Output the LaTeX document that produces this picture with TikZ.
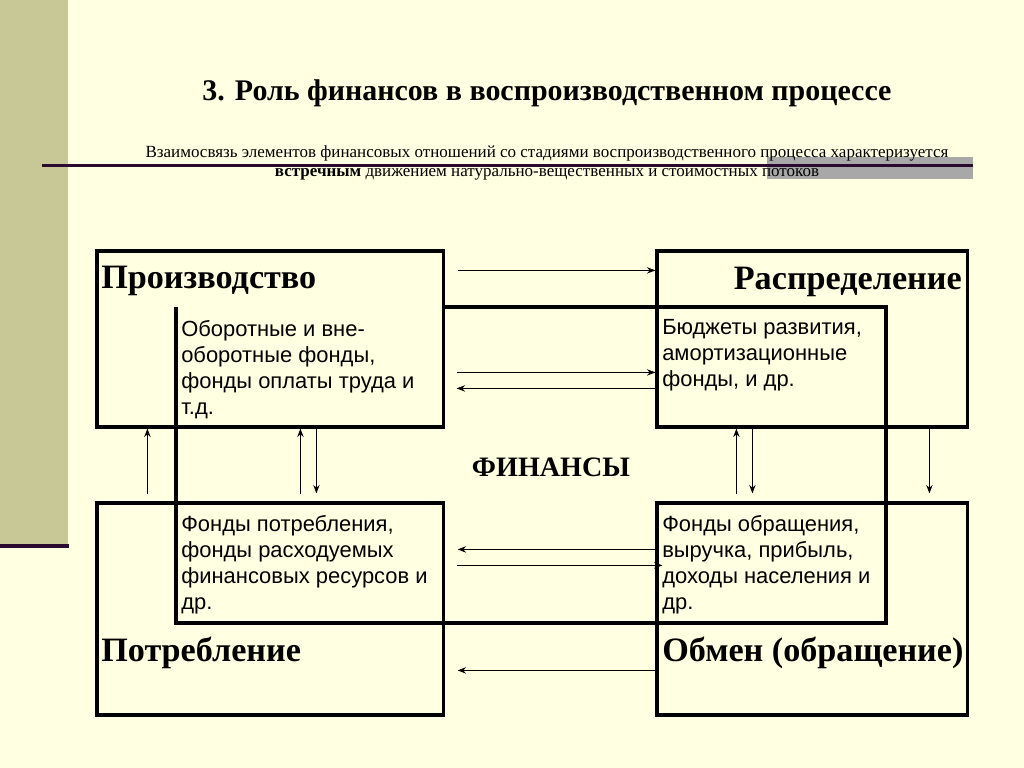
\documentclass[tikz,border=0pt]{standalone}
\usepackage{fontspec}
\setmainfont{Liberation Serif}
\setsansfont{Liberation Sans}
\usetikzlibrary{calc,arrows.meta}
\definecolor{slidebg}{HTML}{FFFFE1}
\definecolor{slideolive}{HTML}{C8C896}
\definecolor{slidepurple}{HTML}{2A0A2E}
\definecolor{slidegrey}{HTML}{A8A8A8}
\begin{document}
\begin{tikzpicture}[x=0.025cm, y=-0.025cm,
    stagebox/.style={draw, line width=2.2pt, inner sep=0pt},
    stagename/.style={font=\fontsize{24.3}{27}\selectfont\bfseries, inner sep=0pt},
    fundtext/.style={font=\sffamily\fontsize{15.6}{18.6}\selectfont, align=left, anchor=north west, inner sep=0pt},
    frameline/.style={line width=2.2pt},
    flow/.style={-{Stealth[length=6pt,width=4.5pt]}, line width=1.1pt}]
  \useasboundingbox (0,0) rectangle (1024,768);
  \fill[slidebg] (0,0) rectangle (1024,768);

  % slide decoration
  \fill[slideolive] (0,0) rectangle (68,545);
  \fill[slidepurple] (0,544) rectangle (69,548);
  \fill[slidegrey] (767,157) rectangle (973,179);
  \fill[slidepurple] (42,164.5) rectangle (973,167.5);

  % title and subtitle
  \node[font=\fontsize{21.3}{25}\selectfont\bfseries, anchor=base] (title) at (547,101)
    {3. Роль финансов в воспроизводственном процессе};
  \node[font=\fontsize{12.1}{14}\selectfont, anchor=base] (sub1) at (547,158)
    {Взаимосвязь элементов финансовых отношений со стадиями воспроизводственного процесса характеризуется};
  \node[font=\fontsize{12.1}{14}\selectfont, anchor=base] (sub2) at (547,177)
    {\textbf{встречным} движением натурально-вещественных и стоимостных потоков};

  % stage boxes
  \node[stagebox, minimum width=8.65cm, minimum height=4.4cm] (prod) at (270,339) {};
  \node[stagebox, minimum width=7.75cm, minimum height=4.4cm] (raspr) at (812,339) {};
  \node[stagebox, minimum width=8.65cm, minimum height=5.3cm] (potr) at (270,609) {};
  \node[stagebox, minimum width=7.75cm, minimum height=5.3cm] (obmen) at (812,609) {};

  % inner frame of finances
  \coordinate (finNW) at (176,307);
  \coordinate (finSE) at (886,623);
  \draw[frameline] (prod.east |- finNW) -- (finSE |- finNW) -- (finSE) -- (finNW |- finSE) -- (finNW);

  % stage names
  \node[stagename, anchor=base west] (prodname) at (101,288) {Производство};
  \node[stagename, anchor=base east] (rasprname) at (962,289) {Распределение};
  \node[stagename, anchor=base west] (potrname) at (101,661) {Потребление};
  \node[stagename, anchor=base west] (obmenname) at (662,661) {Обмен (обращение)};

  % funds
  \node[fundtext] (prodfund) at (181,320) {Оборотные и вне-\\оборотные фонды,\\фонды оплаты труда и\\т.д.};
  \node[fundtext] (rasprfund) at (662,319) {Бюджеты развития,\\амортизационные\\фонды, и др.};
  \node[fundtext] (potrfund) at (181,515) {Фонды потребления,\\фонды расходуемых\\финансовых ресурсов и\\др.};
  \node[fundtext] (obmenfund) at (662,515) {Фонды обращения,\\выручка, прибыль,\\доходы населения и\\др.};

  \node[font=\fontsize{20}{24}\selectfont\bfseries] (fin) at (551,467) {ФИНАНСЫ};

  % flows between the top boxes
  \draw[flow] ($(prod.north east)+(13,21)$) -- ($(raspr.north west)+(0,21)$);
  \draw[flow] ($(prod.north east)+(12,123)$) -- ($(raspr.north west)+(0,123)$);
  \draw[flow] ($(raspr.north west)+(0,139)$) -- ($(prod.north east)+(12,139)$);

  % flows on the left
  \draw[flow] ($(potr.north west)+(52,-7)$) -- ($(prod.south west)+(52,0)$);
  \draw[flow] ($(potr.north west)+(205,-7)$) -- ($(prod.south west)+(205,0)$);
  \draw[flow] ($(prod.south west)+(221,0)$) -- ($(potr.north west)+(221,-8)$);

  % flows on the right
  \draw[flow] ($(obmen.north west)+(81,-7)$) -- ($(raspr.south west)+(81,0)$);
  \draw[flow] ($(raspr.south west)+(97,0)$) -- ($(obmen.north west)+(97,-8)$);
  \draw[flow] ($(raspr.south west)+(274,0)$) -- ($(obmen.north west)+(274,-8)$);

  % flows between the bottom boxes
  \draw[flow] ($(obmen.north west)+(0,48)$) -- ($(potr.north east)+(13,48)$);
  \draw[flow] ($(potr.north east)+(12,64)$) -- ($(obmen.north west)+(7,64)$);
  \draw[flow] ($(obmen.north west)+(0,169)$) -- ($(potr.north east)+(13,169)$);
\end{tikzpicture}
\end{document}
